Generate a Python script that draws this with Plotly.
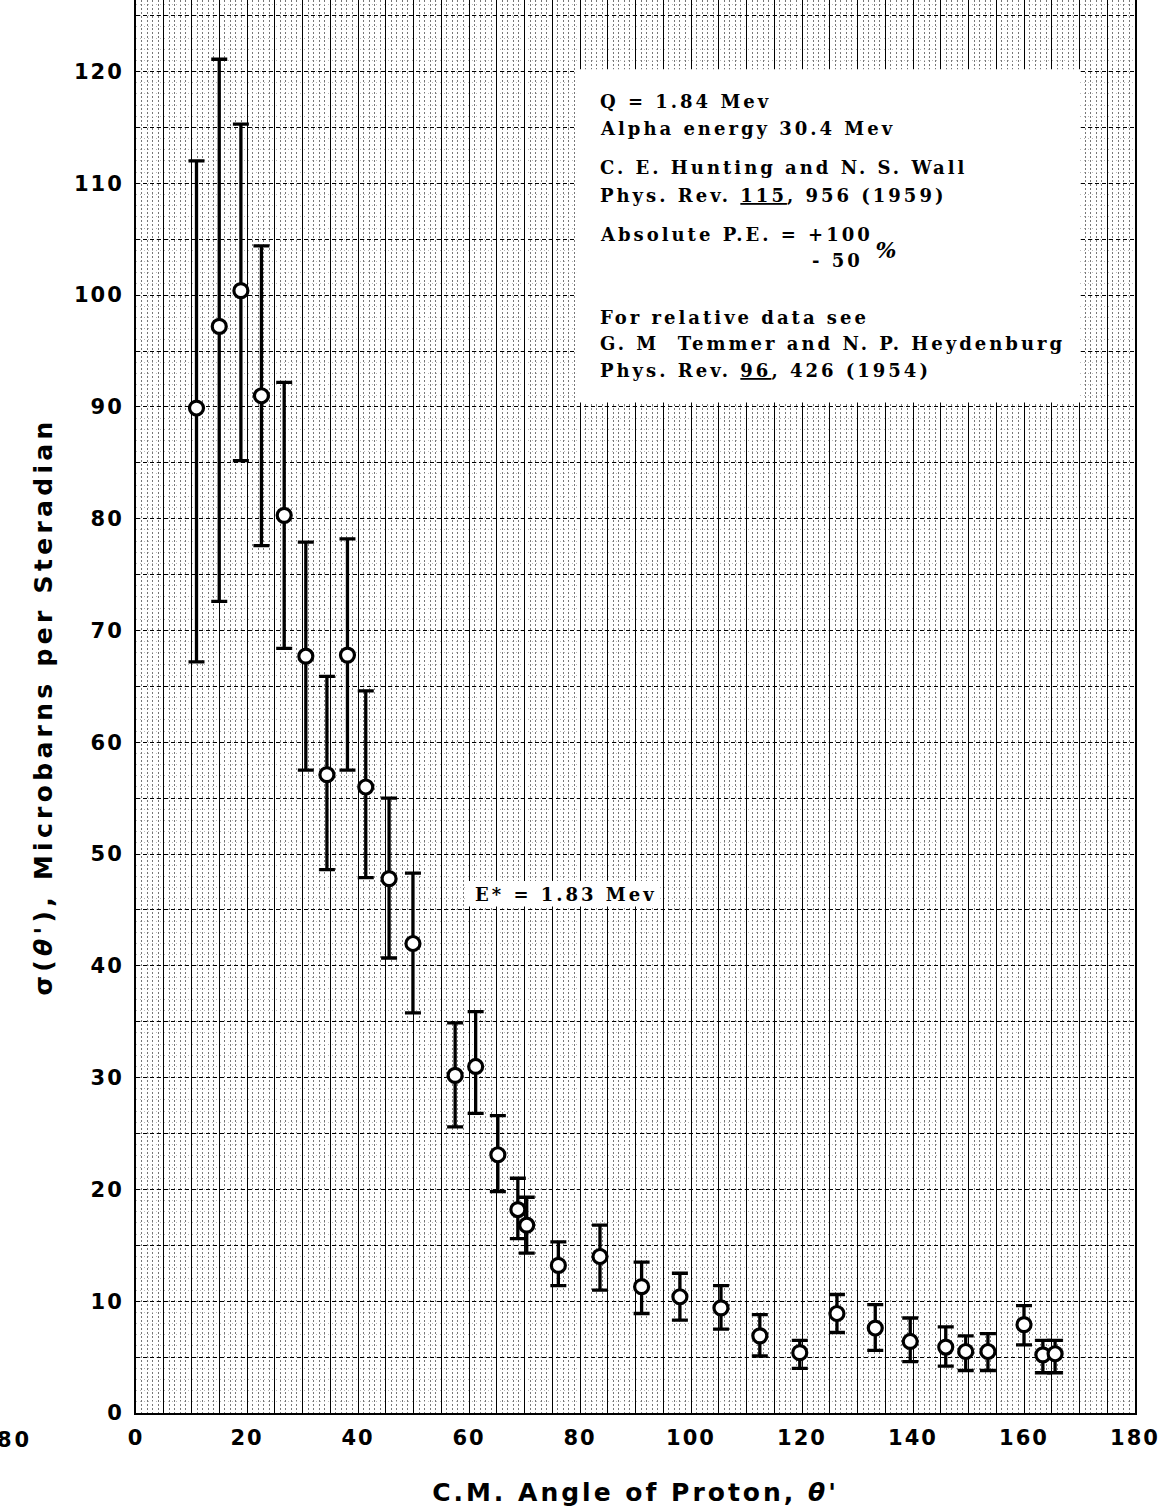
import plotly.graph_objects as go

# Differential cross section of the proton group, centre-of-mass frame
angle = [10.9, 15.0, 18.9, 22.6, 26.7, 30.6, 34.4, 38.1, 41.4, 45.6,
         49.9, 57.5, 61.2, 65.2, 68.8, 70.4, 76.1, 83.6, 91.1, 98.0,
         105.4, 112.4, 119.6, 126.3, 133.2, 139.5, 145.9, 149.5, 153.5, 160.0,
         163.4, 165.6]
sigma = [89.9, 97.2, 100.4, 91.0, 80.3, 67.7, 57.1, 67.8, 56.0, 47.8,
         42.0, 30.2, 31.0, 23.1, 18.2, 16.8, 13.2, 14.0, 11.3, 10.4,
         9.4, 6.9, 5.4, 8.9, 7.6, 6.4, 5.9, 5.5, 5.5, 7.9,
         5.2, 5.3]
sigma_hi = [112.0, 121.1, 115.3, 104.4, 92.2, 77.9, 65.9, 78.2, 64.6, 55.0,
            48.3, 34.9, 35.9, 26.6, 21.0, 19.3, 15.3, 16.8, 13.5, 12.5,
            11.4, 8.8, 6.5, 10.6, 9.7, 8.5, 7.7, 6.9, 7.1, 9.6,
            6.5, 6.5]
sigma_lo = [67.2, 72.6, 85.2, 77.6, 68.4, 57.5, 48.6, 57.5, 47.9, 40.7,
            35.8, 25.6, 26.8, 19.8, 15.6, 14.3, 11.4, 11.0, 8.9, 8.3,
            7.5, 5.1, 4.0, 7.2, 5.6, 4.6, 4.2, 3.8, 3.8, 6.1,
            3.6, 3.6]

# Graph-paper rulings and the labelled ticks
x_grid = list(range(0, 181, 5))
x_labels = ["0", "20", "40", "60", "80", "100", "120", "140", "160", "180"]
y_grid = list(range(0, 126, 5))
y_labels = ["0", "10", "20", "30", "40", "50", "60", "70", "80", "90", "100", "110", "120"]

x_text = [str(v) if str(v) in x_labels else "" for v in x_grid]
y_text = [str(v) if str(v) in y_labels else "" for v in y_grid]

err_plus = [h - s for h, s in zip(sigma_hi, sigma)]
err_minus = [s - l for s, l in zip(sigma, sigma_lo)]

LETTER = "DejaVu Sans"
TYPE = "DejaVu Serif"

fig = go.Figure()
fig.add_trace(go.Scatter(
    x=angle, y=sigma, mode="markers",
    marker=dict(symbol="circle", size=14, color="white",
                line=dict(color="black", width=3.2)),
    error_y=dict(type="data", symmetric=False, array=err_plus,
                 arrayminus=err_minus, color="black", thickness=3.3, width=8),
    showlegend=False, hoverinfo="skip",
))

# White pasted-on label areas
fig.add_shape(type="rect", xref="x", yref="y", x0=79.3, x1=170.1, y0=90.4, y1=120.2,
              fillcolor="white", line=dict(width=0), layer="between")
fig.add_shape(type="rect", xref="x", yref="y", x0=59.8, x1=94.4, y0=45.3, y1=47.6,
              fillcolor="white", line=dict(width=0), layer="between")

info_lines = [
    ("Q = 1.84 Mev", 117.3),
    ("Alpha energy 30.4 Mev", 114.9),
    ("C. E. Hunting and N. S. Wall", 111.4),
    ("Phys. Rev. <u>115</u>, 956 (1959)", 108.9),
    ("Absolute P.E. = +100", 105.4),
    ("For relative data see", 98.0),
    ("G. M  Temmer and N. P. Heydenburg", 95.7),
    ("Phys. Rev. <u>96</u>, 426 (1954)", 93.3),
]
for txt, yv in info_lines:
    fig.add_annotation(x=83.2, y=yv, xref="x", yref="y", text="<b>" + txt + "</b>",
                       showarrow=False, xanchor="left", yanchor="middle", align="left",
                       font=dict(family=TYPE, size=18, color="black"))
fig.add_annotation(x=121.4, y=103.1, xref="x", yref="y", text="<b>- 50</b>",
                   showarrow=False, xanchor="left", yanchor="middle", align="left",
                   font=dict(family=TYPE, size=18, color="black"))
fig.add_annotation(x=135.4, y=104.0, xref="x", yref="y", text="<b><i>%</i></b>",
                   showarrow=False, xanchor="center", yanchor="middle",
                   font=dict(family=TYPE, size=22, color="black"))
fig.add_annotation(x=60.7, y=46.4, xref="x", yref="y", text="<b>E* = 1.83 Mev</b>",
                   showarrow=False, xanchor="left", yanchor="middle", align="left",
                   font=dict(family=TYPE, size=18, color="black"))

# Edge of the neighbouring scale, left of the frame
fig.add_annotation(x=-0.122, y=-0.019, xref="paper", yref="paper", text="<b>80</b>",
                   showarrow=False, xanchor="center", yanchor="middle",
                   font=dict(family=LETTER, size=21, color="black"))

fig.update_layout(
    width=1159, height=1511,
    margin=dict(l=136, r=24, t=0, b=98),
    paper_bgcolor="white", plot_bgcolor="white",
    xaxis=dict(
        range=[0, 180], tickmode="array", tickvals=x_grid, ticktext=x_text,
        showgrid=True, gridcolor="black", gridwidth=1.2,
        minor=dict(tickmode="linear", tick0=0, dtick=1, showgrid=True,
                   gridcolor="#777777", gridwidth=1, griddash="2px,2px"),
        zeroline=False, showline=True, linecolor="black", linewidth=2,
        ticks="", ticklabelstandoff=5,
        tickfont=dict(family=LETTER, size=21, color="black", weight="bold"),
        title=dict(text="C.M. Angle of Proton, <i>θ'</i>", standoff=34,
                   font=dict(family=LETTER, size=25, color="black", weight="bold")),
    ),
    yaxis=dict(
        range=[0, 126.4], tickmode="array", tickvals=y_grid, ticktext=y_text,
        showgrid=True, gridcolor="black", gridwidth=1, griddash="4px,3px",
        minor=dict(tickmode="linear", tick0=0, dtick=1, showgrid=True,
                   gridcolor="#bbbbbb", gridwidth=1, griddash="1px,3px"),
        zeroline=False, showline=True, linecolor="black", linewidth=2, mirror=True,
        ticks="", ticklabelstandoff=6,
        tickfont=dict(family=LETTER, size=21, color="black", weight="bold"),
        title=dict(text="σ(<i>θ'</i>), Microbarns per Steradian", standoff=20,
                   font=dict(family=LETTER, size=25, color="black", weight="bold")),
    ),
)

# Wide hand-lettered spacing for the lettering and typed labels
spacing_js = """
var gd = document.getElementById('{plot_id}');
function widen() {
  gd.querySelectorAll('.xtick text, .ytick text').forEach(function (t) { t.style.letterSpacing = '2px'; });
  gd.querySelectorAll('.xtitle').forEach(function (t) { t.style.letterSpacing = '3px'; });
  gd.querySelectorAll('.ytitle').forEach(function (t) { t.style.letterSpacing = '4.3px'; });
  gd.querySelectorAll('.annotation-text').forEach(function (t) { t.style.letterSpacing = '3px'; });
}
widen();
if (gd.on) { gd.on('plotly_afterplot', widen); }
setTimeout(widen, 50);
"""

fig.write_html("out.html", post_script=spacing_js)
